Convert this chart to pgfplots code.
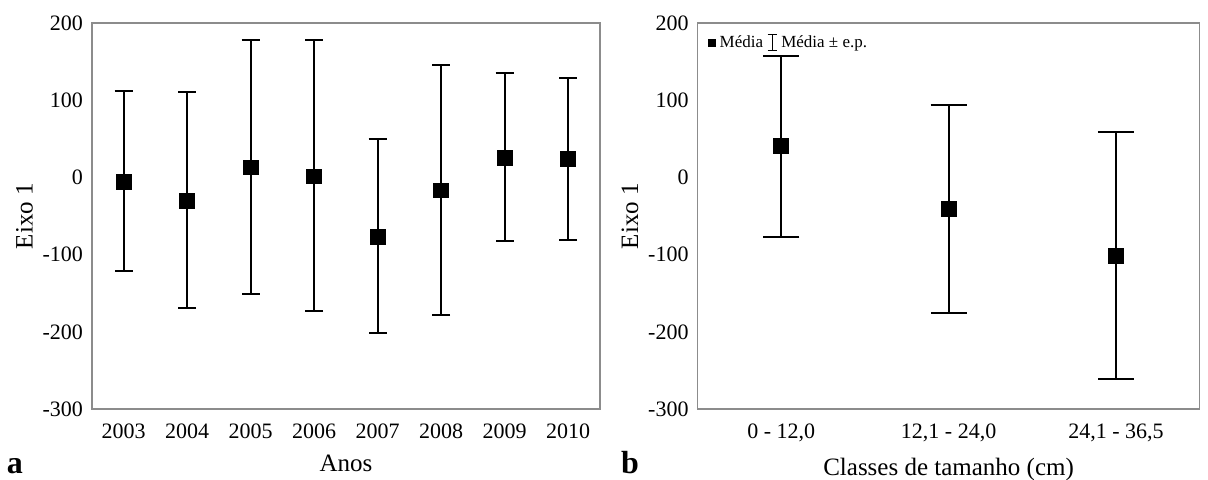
\documentclass[border=0pt]{standalone}
\usepackage{fontspec}
\setmainfont{Liberation Serif}
\usepackage{pgfplots}
\pgfplotsset{compat=1.18}

\pgfplotsset{
  painel/.style={
    scale only axis, height=193pt,
    ymin=-300, ymax=200, ytick={-300,-200,-100,0,100,200},
    yticklabels={-300,-200,-100,0,100,200},
    major tick length=0pt,
    axis line style={black!45, line width=0.8pt},
    tick label style={font=\fontsize{11}{12}\selectfont},
    label style={font=\fontsize{12.5}{14}\selectfont},
    xticklabel style={yshift=-4pt},
    yticklabel style={xshift=-1pt},
    ylabel={Eixo 1},
    ylabel style={yshift=-2pt},
    xlabel style={yshift=-1pt},
  },
  barras/.style={
    black, only marks, mark=square*, mark size=3.7pt,
    error bars/.cd, y dir=both, y explicit,
    error bar style={line width=1pt, black},
    error mark options={rotate=90, mark size=#1, line width=1pt, black},
    /pgfplots/.cd,
  },
}

\begin{document}
\begin{tikzpicture}[x=1pt,y=1pt]
\useasboundingbox (-46,-35) rectangle (558,204.5);

% a: anos
\begin{axis}[painel, at={(0pt,0pt)}, anchor=south west, width=254pt,
  xmin=-0.5, xmax=7.5, xtick={0,...,7},
  xticklabels={2003,2004,2005,2006,2007,2008,2009,2010},
  xlabel={Anos}]
\addplot[barras=4.5pt] coordinates {
  (0,-5.6)  += (0,117.6) -= (0,115.4)
  (1,-30)   += (0,141)   -= (0,139)
  (2,13)    += (0,165.4) -= (0,164)
  (3,1.3)   += (0,176.7) -= (0,174.3)
  (4,-76.7) += (0,127.1) -= (0,125)
  (5,-16.8) += (0,162.8) -= (0,160.8)
  (6,25)    += (0,110.3) -= (0,107.8)
  (7,23.7)  += (0,105.6) -= (0,104.7)
};
\end{axis}
\node[font=\fontsize{16}{17}\selectfont\bfseries, inner sep=0pt, anchor=base] at (-38.5,-32) {a};

% b: classes de tamanho
\begin{axis}[painel, at={(302.8pt,0pt)}, anchor=south west, width=251pt,
  xmin=-0.5, xmax=2.5, xtick={0,1,2},
  xticklabels={0 - 12{,}0,12{,}1 - 24{,}0,24{,}1 - 36{,}5},
  xlabel={Classes de tamanho (cm)},
  legend cell align=left, legend columns=2,
  legend style={at={(0.015,0.985)}, anchor=north west, draw=none, fill=none,
    font=\fontsize{8.5}{9}\selectfont, inner sep=1pt,
    /tikz/every even column/.append style={column sep=0pt}}]
\addplot[forget plot, barras=9pt] coordinates {
  (0,40.5)   += (0,117.3) -= (0,117.2)
  (1,-41)    += (0,135.4) -= (0,134)
  (2,-101.7) += (0,159.9) -= (0,159.3)
};
\addlegendimage{legend image code/.code={\fill[black] (0.09cm,-0.07cm) rectangle (0.22cm,0.06cm);}}
\addlegendentry{Média}
\addlegendimage{legend image code/.code={\draw[black, line width=0.5pt]
  (0.27cm,-0.13cm) -- (0.27cm,0.14cm)
  (0.19cm,-0.13cm) -- (0.35cm,-0.13cm)
  (0.19cm,0.14cm) -- (0.35cm,0.14cm);}}
\addlegendentry{Média ± e.p.}
\end{axis}
\node[font=\fontsize{16}{17}\selectfont\bfseries, inner sep=0pt, anchor=base] at (269,-32) {b};
\end{tikzpicture}
\end{document}
